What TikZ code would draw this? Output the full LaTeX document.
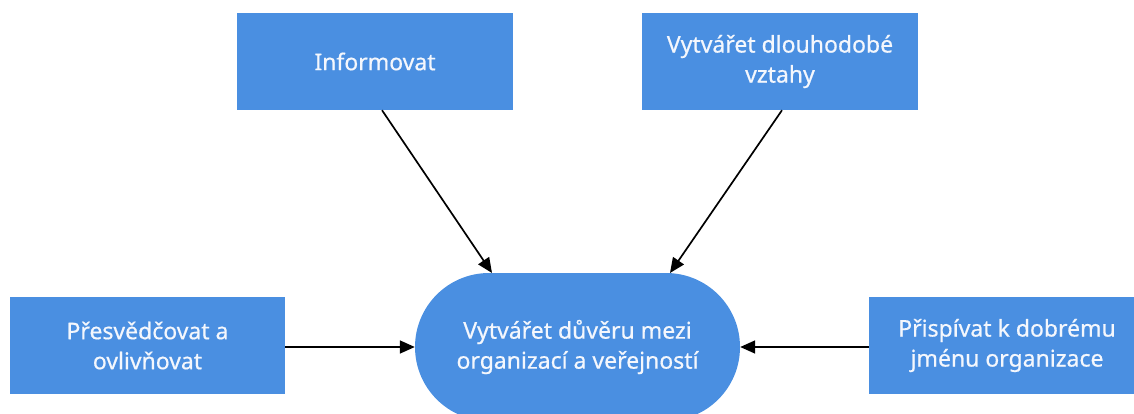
\documentclass[tikz,border=0pt]{standalone}
\usepackage{fontspec}
\setmainfont[FakeBold=0.6]{Noto Sans}
\usetikzlibrary{arrows.meta}
\definecolor{boxblue}{HTML}{4A8FE1}
\definecolor{boxtext}{HTML}{F4F7FD}
\tikzset{
  box/.style={fill=boxblue, draw=none, text=boxtext, align=center, inner sep=0pt,
    font=\fontsize{23}{30}\selectfont},
  conn/.style={draw=black, line width=1.7pt, -{Triangle[length=15pt,width=13pt]}}
}
\begin{document}
\begin{tikzpicture}[x=1pt,y=-1pt]
\useasboundingbox (0,0) rectangle (1134,414);
% boxes
\node[box, minimum width=276pt, minimum height=97pt] (inf) at (375,61.5) {Informovat};
\node[box, minimum width=276pt, minimum height=97pt] (vzt) at (780,61.5) {Vytvářet dlouhodobé\\vztahy};
\node[box, minimum width=275pt, minimum height=97pt] (pre) at (147.5,345.5) {Přesvědčovat a\\ovlivňovat};
\node[box, minimum width=276pt, minimum height=97pt] (pri) at (1007,345.5) {Přispívat k dobrému\\jménu organizace};
\node[box, minimum width=325pt, minimum height=148pt, rounded corners=74pt] (cen) at (577.5,347) {Vytvářet důvěru mezi\\organizací a veřejností};
% connectors
\coordinate (a1) at (492,273);
\coordinate (a2) at (670,273);
\draw[conn] (inf.south -| 382,0) -- (a1);
\draw[conn] (vzt.south -| 782,0) -- (a2);
\draw[conn] (pre.east |- 0,347) -- (cen.west);
\draw[conn] (pri.west |- 0,347) -- (cen.east);
\end{tikzpicture}
\end{document}
